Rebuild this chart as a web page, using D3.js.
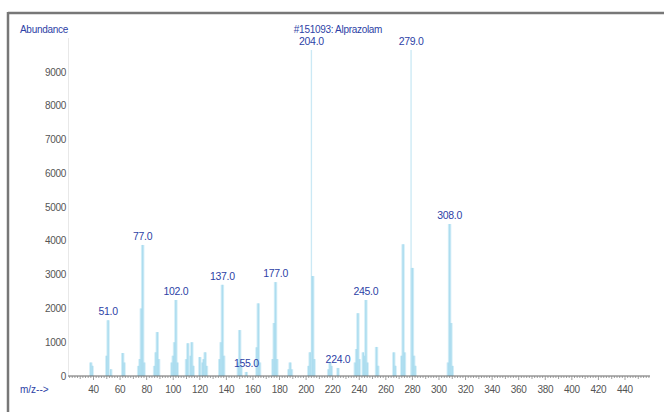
<!DOCTYPE html>
<html>
<head>
<meta charset="utf-8">
<script src="https://cdn.jsdelivr.net/npm/d3@7"></script>
<style>
  html, body { margin: 0; padding: 0; background: #fff; }
  svg { display: block; }
  text { font-family: "Liberation Sans Narrow", "Liberation Sans", Arial, sans-serif; }
</style>
</head>
<body>
<svg id="chart" width="664" height="412"></svg>
<script>
// m/z and abundance
const mz = [38, 39, 50, 51, 53, 62, 63, 74, 75, 76, 77, 78, 86, 87, 88, 89,
  99, 100, 101, 102, 103, 110, 111, 113, 114, 115, 120, 122, 123, 124, 125,
  135, 136, 137, 138, 149, 150, 151, 155, 163, 164, 165, 175, 176, 177, 178,
  187, 188, 189, 202, 203, 204, 205, 206, 217, 218, 219, 224, 237, 238, 239,
  240, 243, 244, 245, 246, 253, 254, 266, 267, 272, 273, 274, 279, 280, 281,
  282, 307, 308, 309, 310];
const abundance = [400, 300, 600, 1650, 200, 680, 400, 300, 500, 2000, 3880, 400, 300, 700, 1300, 500,
  400, 600, 1000, 2250, 400, 500, 970, 600, 1000, 300, 560, 400, 500, 700, 300,
  500, 1000, 2700, 600, 400, 1360, 300, 120, 850, 2150, 400, 500, 1570, 2780, 500,
  200, 400, 200, 300, 700, 9650, 2960, 500, 200, 400, 300, 240, 400, 800, 1860,
  500, 700, 600, 2250, 400, 860, 300, 700, 300, 600, 3900, 700, 9650, 3200, 600,
  300, 400, 4500, 1570, 300];
const labelled = [51, 77, 102, 137, 155, 177, 204, 224, 245, 279, 308];
const yTicks = [0, 1000, 2000, 3000, 4000, 5000, 6000, 7000, 8000, 9000];
const xTicks = d3.range(40, 441, 20);

const peaks = mz.map((m, i) => ({ m, a: abundance[i] }));

const svg = d3.select("#chart");

const x = d3.scaleLinear().domain([40, 440]).range([93.5, 625]);
const y = d3.scaleLinear().domain([0, 9000]).range([376, 72]);

// frame (top and left edges only are visible)
svg.append("line").attr("x1", 8).attr("x2", 664).attr("y1", 13).attr("y2", 13)
  .attr("stroke", "#777").attr("stroke-width", 2.5);
svg.append("line").attr("x1", 8).attr("x2", 8).attr("y1", 12).attr("y2", 412)
  .attr("stroke", "#777").attr("stroke-width", 2.5);

// faint y axis line
svg.append("line").attr("x1", 68.5).attr("x2", 68.5).attr("y1", 38).attr("y2", 376)
  .attr("stroke", "#e8e8e8").attr("stroke-width", 1);

// y tick labels
svg.append("g").selectAll("text")
  .data(yTicks)
  .join("text")
  .attr("x", 66)
  .attr("y", d => y(d) + 3.5)
  .attr("text-anchor", "end")
  .attr("font-size", 10)
  .attr("letter-spacing", -0.3)
  .attr("fill", "#555")
  .text(d => d);

// peaks: soft halo plus core line
const peakG = svg.append("g");
peakG.selectAll(".halo")
  .data(peaks.filter(d => d.a < 5000))
  .join("line")
  .attr("class", "halo")
  .attr("x1", d => x(d.m)).attr("x2", d => x(d.m))
  .attr("y1", y(0)).attr("y2", d => y(d.a))
  .attr("stroke", "#d6eff8")
  .attr("stroke-width", 3.5);
peakG.selectAll(".core")
  .data(peaks)
  .join("line")
  .attr("class", "core")
  .attr("x1", d => x(d.m)).attr("x2", d => x(d.m))
  .attr("y1", y(0)).attr("y2", d => y(d.a))
  .attr("stroke", "#a9dcef")
  .attr("stroke-width", d => d.a > 5000 ? 1.3 : 1.6)
  .attr("opacity", d => d.a > 5000 ? 0.6 : 0.9);

// peak labels
svg.append("g").selectAll("text")
  .data(peaks.filter(d => labelled.includes(d.m)))
  .join("text")
  .attr("x", d => x(d.m))
  .attr("y", d => y(d.a) - 5)
  .attr("text-anchor", "middle")
  .attr("font-size", 10.5)
  .attr("letter-spacing", -0.3)
  .attr("fill", "#2d3fa6")
  .text(d => d.m.toFixed(1));

// x axis
const xAxisG = svg.append("g").attr("transform", `translate(0,${y(0)})`);
xAxisG.append("line").attr("x1", 68).attr("x2", 650).attr("y1", 0).attr("y2", 0)
  .attr("stroke", "#666").attr("stroke-width", 1);
xAxisG.selectAll(".minor")
  .data(d3.range(22, 460, 2))
  .join("line")
  .attr("class", "minor")
  .attr("x1", d => x(d)).attr("x2", d => x(d))
  .attr("y1", 0).attr("y2", d => d % 20 === 0 ? 4 : (d % 10 === 0 ? 3 : 2))
  .attr("stroke", "#888").attr("stroke-width", 0.8);
xAxisG.selectAll(".tl")
  .data(xTicks)
  .join("text")
  .attr("class", "tl")
  .attr("x", d => x(d))
  .attr("y", 17)
  .attr("text-anchor", "middle")
  .attr("font-size", 10)
  .attr("letter-spacing", -0.3)
  .attr("fill", "#555")
  .text(d => d);

// titles
svg.append("text").attr("x", 20).attr("y", 33).attr("font-size", 10)
  .attr("letter-spacing", -0.3)
  .attr("fill", "#2d3fa6").text("Abundance");
svg.append("text").attr("x", 338).attr("y", 33).attr("text-anchor", "middle")
  .attr("font-size", 10).attr("letter-spacing", -0.3)
  .attr("fill", "#2d3fa6").text("#151093: Alprazolam");
svg.append("text").attr("x", 20).attr("y", 393).attr("font-size", 10)
  .attr("fill", "#2d3fa6").text("m/z-->");
</script>
</body>
</html>
